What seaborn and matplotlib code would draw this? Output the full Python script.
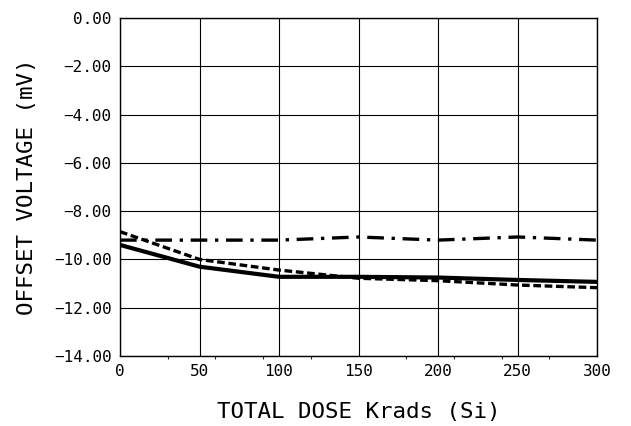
import matplotlib
matplotlib.use("Agg")
import matplotlib.pyplot as plt
import seaborn as sns
import pandas as pd
import numpy as np

dose = [0, 50, 100, 150, 200, 250, 300]
solid_vals = [-9.40, -10.30, -10.72, -10.72, -10.75, -10.85, -10.93]
dashed_vals = [-8.85, -10.00, -10.44, -10.78, -10.88, -11.06, -11.17]
dashdot_vals = [-9.20, -9.20, -9.20, -9.07, -9.20, -9.07, -9.20]
series_names = ["A", "B", "C"]

df = pd.concat([
    pd.DataFrame({"dose": dose, "v": solid_vals, "s": series_names[0]}),
    pd.DataFrame({"dose": dose, "v": dashed_vals, "s": series_names[1]}),
    pd.DataFrame({"dose": dose, "v": dashdot_vals, "s": series_names[2]}),
])

sns.set_style("white")
plt.rcParams['font.family'] = ['DejaVu Sans Mono']

fig = plt.figure(figsize=(6.31, 4.26), dpi=100)
ax = fig.add_axes([120/631, 1-356/426, (597-120)/631, (356-18)/426])

for name, lw, dash in [("A", 3.0, ""), ("B", 2.4, (2.3, 1.1)), ("C", 2.4, (5.0, 2.3, 1.0, 2.3))]:
    sub = df[df["s"] == name]
    sns.lineplot(data=sub, x="dose", y="v", ax=ax, color="black", linewidth=lw,
                 legend=False, zorder=3)
    line = ax.lines[-1]
    if dash:
        line.set_dashes(dash)

ax.set_xlim(0, 300)
ax.set_ylim(-14, 0)
ax.set_xticks(np.arange(0, 301, 50))
ax.set_yticks(np.arange(-14, 0.1, 2))
ax.set_yticklabels([f"{t:.2f}".replace("-", "\u2212") for t in np.arange(-14, 0.1, 2)])
ax.set_xticks(np.arange(30, 300, 30), minor=True)
ax.grid(True, which="major", color="black", linewidth=0.8)
ax.tick_params(which="major", length=0, labelsize=11.5, pad=6, colors="black")
ax.tick_params(which="minor", axis="x", length=2, width=0.8, direction="out", bottom=True)
for sp in ax.spines.values():
    sp.set_color("black")
    sp.set_linewidth(1.0)
    sp.set_visible(True)

ax.set_xlabel("TOTAL DOSE Krads (Si)", fontsize=16.2, labelpad=16, color="black")
ax.set_ylabel("OFFSET VOLTAGE (mV)", fontsize=16.2, labelpad=12, color="black")

fig.savefig("out.png", dpi=100)
